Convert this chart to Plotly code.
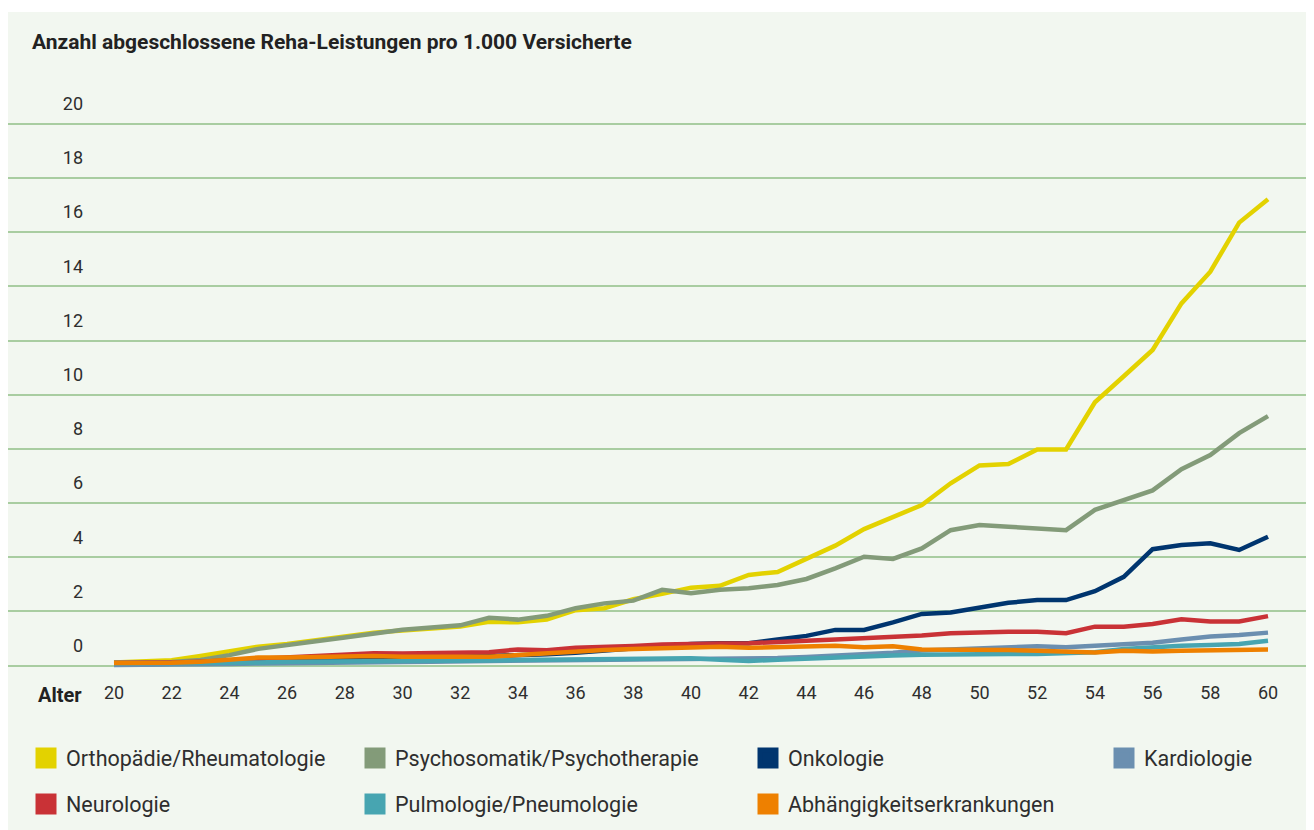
import plotly.graph_objects as go

ages = list(range(20, 61))

orthopaedie = [0.12, 0.14, 0.2, 0.36, 0.55, 0.7, 0.8, 0.93, 1.06, 1.22, 1.3, 1.36, 1.45, 1.62, 1.6, 1.7,
               2.05, 2.12, 2.45, 2.65, 2.88, 2.95, 3.35, 3.46, 3.96, 4.43, 5.04, 5.47, 5.93, 6.73, 7.39,
               7.44, 7.98, 7.98, 9.72, 10.68, 11.65, 13.37, 14.54, 16.35, 17.21]
psychosomatik = [0.12, 0.12, 0.14, 0.21, 0.39, 0.62, 0.78, 0.9, 1.04, 1.18, 1.33, 1.41, 1.49, 1.77, 1.7, 1.84,
                 2.12, 2.3, 2.4, 2.8, 2.67, 2.8, 2.86, 2.98, 3.2, 3.59, 4.02, 3.94, 4.33, 5.0, 5.19,
                 5.13, 5.07, 5.0, 5.75, 6.12, 6.47, 7.25, 7.77, 8.58, 9.21]
onkologie = [0.05, 0.05, 0.07, 0.1, 0.13, 0.17, 0.2, 0.23, 0.26, 0.28, 0.3, 0.32, 0.34, 0.36, 0.38, 0.42,
             0.48, 0.56, 0.66, 0.74, 0.8, 0.83, 0.83, 0.97, 1.1, 1.32, 1.32, 1.6, 1.91, 1.96, 2.14,
             2.32, 2.42, 2.42, 2.75, 3.28, 4.3, 4.45, 4.52, 4.27, 4.76]
kardiologie = [0.03, 0.03, 0.04, 0.05, 0.06, 0.08, 0.1, 0.11, 0.12, 0.13, 0.14, 0.15, 0.16, 0.17, 0.18, 0.19,
               0.2, 0.21, 0.22, 0.24, 0.26, 0.25, 0.24, 0.28, 0.32, 0.36, 0.42, 0.48, 0.56, 0.6, 0.63,
               0.65, 0.72, 0.68, 0.73, 0.8, 0.85, 0.97, 1.08, 1.13, 1.22]
neurologie = [0.1, 0.1, 0.12, 0.15, 0.2, 0.26, 0.3, 0.34, 0.4, 0.46, 0.45, 0.47, 0.5, 0.5, 0.6, 0.57,
              0.66, 0.68, 0.73, 0.78, 0.82, 0.82, 0.83, 0.86, 0.92, 0.97, 1.01, 1.03, 1.11, 1.2, 1.24,
              1.25, 1.25, 1.2, 1.44, 1.44, 1.54, 1.71, 1.63, 1.63, 1.83]
pulmologie = [0.08, 0.08, 0.08, 0.09, 0.1, 0.12, 0.15, 0.15, 0.17, 0.17, 0.15, 0.19, 0.19, 0.19, 0.21, 0.22,
              0.19, 0.21, 0.21, 0.23, 0.27, 0.22, 0.17, 0.22, 0.27, 0.31, 0.34, 0.38, 0.4, 0.42, 0.43,
              0.43, 0.43, 0.45, 0.5, 0.62, 0.7, 0.74, 0.76, 0.8, 0.92]
abhaengigkeit = [0.1, 0.1, 0.11, 0.15, 0.21, 0.3, 0.3, 0.33, 0.36, 0.36, 0.33, 0.33, 0.31, 0.33, 0.39, 0.46,
                 0.52, 0.58, 0.62, 0.64, 0.68, 0.7, 0.66, 0.7, 0.74, 0.74, 0.68, 0.72, 0.6, 0.6, 0.6,
                 0.58, 0.55, 0.52, 0.49, 0.55, 0.52, 0.55, 0.58, 0.58, 0.6]

series_names = ["Orthopädie/Rheumatologie", "Psychosomatik/Psychotherapie", "Onkologie", "Kardiologie",
                "Neurologie", "Pulmologie/Pneumologie", "Abhängigkeitserkrankungen"]
series_values = [orthopaedie, psychosomatik, onkologie, kardiologie, neurologie, pulmologie, abhaengigkeit]
series_colors = ["#E3D200", "#839B79", "#00356F", "#6B8FB0", "#C93236", "#47A5B1", "#EE8000"]

x_ticks = list(range(20, 61, 2))
y_ticks = list(range(0, 21, 2))

title_text = "Anzahl abgeschlossene Reha-Leistungen pro 1.000 Versicherte"
x_label = "Alter"

FONT = "Roboto"
TXT = "#2E2E2E"
W, H = 1306, 822
ML, MR, MT, MB = 0, 0, 92, 150
PH = H - MT - MB  # plot height in px


def px_x(fx):
    return (fx - ML) / (W - ML - MR)


def px_y(fy):
    return (H - MB - fy) / PH


fig = go.Figure()

for name, vals, col in zip(series_names, series_values, series_colors):
    fig.add_trace(go.Scatter(x=ages, y=vals, mode="lines", name=name,
                             line=dict(color=col, width=4.5), showlegend=False,
                             hoverinfo="skip"))

# legend entries (square swatches), one legend per item for exact placement
legend_cols = [18, 347, 740, 1096]
legend_rows = [750, 796]
slot = [(0, 0), (0, 1), (0, 2), (0, 3), (1, 0), (1, 1), (1, 2)]
legend_layouts = {}
for i, (name, col) in enumerate(zip(series_names, series_colors)):
    key = "legend" if i == 0 else f"legend{i + 1}"
    r, c = slot[i]
    fig.add_trace(go.Scatter(x=[None], y=[None], mode="markers", name=name,
                             marker=dict(symbol="square", size=16, color=col,
                                         line=dict(color=col, width=5)),
                             legend=key, showlegend=True))
    legend_layouts[key] = dict(x=px_x(legend_cols[c]), y=px_y(legend_rows[r]),
                               xanchor="left", yanchor="middle",
                               bgcolor="rgba(0,0,0,0)",
                               font=dict(family=FONT, size=21.5, color=TXT))

fig.update_layout(
    width=W, height=H,
    margin=dict(l=ML, r=MR, t=MT, b=MB, pad=0),
    paper_bgcolor="#F2F7F0",
    plot_bgcolor="#F2F7F0",
    font=dict(family=FONT, color=TXT),
    xaxis=dict(range=[16.326, 61.594], tickvals=x_ticks, ticktext=[str(v) for v in x_ticks],
               showgrid=False, zeroline=False, showline=False, ticks="",
               tickfont=dict(family=FONT, size=18, color=TXT), fixedrange=True),
    yaxis=dict(range=[-0.528, 20.875], tickvals=y_ticks, ticktext=[str(v) for v in y_ticks],
               showgrid=True, gridcolor="#A9CDA1", gridwidth=1.5, zeroline=False,
               showline=False, ticks="", anchor="free", position=px_x(75),
               ticklabelshift=-20,
               tickfont=dict(family=FONT, size=18, color=TXT), fixedrange=True),
    annotations=[
        dict(text="<b>" + title_text + "</b>", xref="paper", yref="paper",
             x=px_x(22), y=px_y(34), xanchor="left", yanchor="middle", showarrow=False,
             font=dict(family=FONT, size=21, color="#222222")),
        dict(text="<b>" + x_label + "</b>", xref="paper", yref="paper",
             x=px_x(28), y=px_y(687), xanchor="left", yanchor="middle", showarrow=False,
             font=dict(family=FONT, size=20, color="#222222")),
    ],
    shapes=[dict(type="rect", xref="paper", yref="paper", x0=-0.01, x1=1.01,
                 y0=px_y(4), y1=px_y(-2), fillcolor="white", line=dict(width=0), layer="above")],
    **legend_layouts,
)

fig.write_html("out.html")
